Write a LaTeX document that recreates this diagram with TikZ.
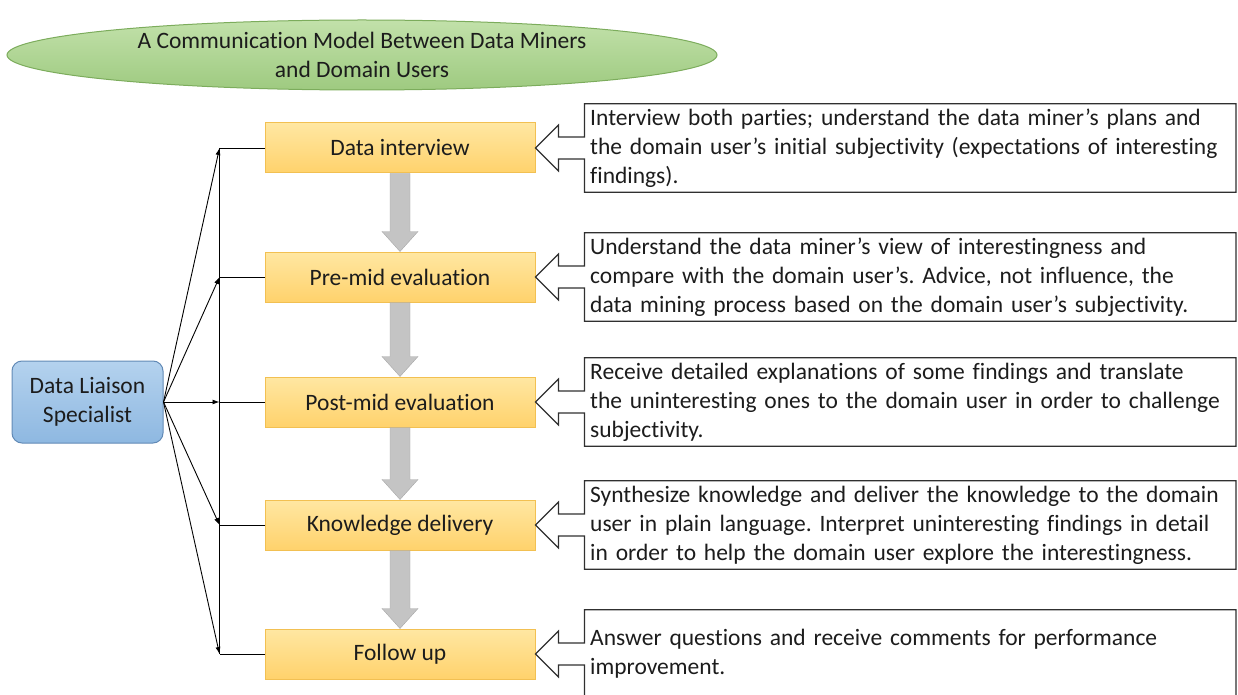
\documentclass[tikz,border=0pt]{standalone}
\usepackage{fontspec}
\setmainfont{Carlito}[Ligatures=NoCommon]
\usetikzlibrary{arrows.meta,calc,positioning,shapes.geometric}
\definecolor{TitleTop}{RGB}{194,225,170}
\definecolor{TitleBot}{RGB}{158,202,128}
\definecolor{TitleClr}{RGB}{124,172,92}
\definecolor{SpecTop}{RGB}{180,210,238}
\definecolor{SpecBot}{RGB}{142,184,225}
\definecolor{SpecClr}{RGB}{98,138,182}
\definecolor{StepTop}{RGB}{255,231,162}
\definecolor{StepBot}{RGB}{255,210,108}
\definecolor{StepClr}{RGB}{242,192,82}
\definecolor{FlowClr}{RGB}{196,196,196}
\definecolor{TxtClr}{RGB}{28,28,28}
\definecolor{NoteClr}{RGB}{48,48,48}
\frenchspacing

\begin{document}
\begin{tikzpicture}[x=1pt,y=-1pt,
  font=\fontsize{23.5}{29}\selectfont,
  StepBox/.style={draw=StepClr,line width=1pt,top color=StepTop,bottom color=StepBot,
    minimum width=270pt,minimum height=50pt,inner sep=0pt,text=TxtClr},
  NoteBox/.style={right=49pt of #1,minimum height=88pt,text width=640pt,
    inner xsep=5.5pt,inner ysep=0pt,align=left,text=TxtClr},
  NoteLine/.style={draw=NoteClr,line width=1.2pt},
  FlowArr/.style={fill=FlowClr,draw=FlowClr!85!black,line width=0.4pt},
  Conn/.style={line width=0.9pt,black},
  ConnArr/.style={Conn,-{Latex[length=7pt,width=5pt]}}]

\useasboundingbox (0,0) rectangle (1238,695);

\node[ellipse,draw=TitleClr,line width=1pt,top color=TitleTop,bottom color=TitleBot,
  minimum width=710pt,minimum height=70pt,inner sep=0pt,align=center,text=TxtClr]
  (title) at (362,55) {A Communication Model Between Data Miners\\and Domain Users};

\node[draw=SpecClr,line width=1pt,rounded corners=10pt,top color=SpecTop,bottom color=SpecBot,
  minimum width=151pt,minimum height=82pt,align=center,text=TxtClr]
  (spec) at (87.5,402) {Data Liaison\\Specialist};

\node[StepBox] (b1) at (400,148) {Data interview};
\node[StepBox] (b2) at (400,277) {Pre-mid evaluation};
\node[StepBox] (b3) at (400,402) {Post-mid evaluation};
\node[StepBox] (b4) at (400,525) {Knowledge delivery};
\node[StepBox] (b5) at (400,654) {Follow up};

\node[NoteBox=b1] (t1) {Interview both parties; understand the data miner’s plans and\\
  the domain user’s initial subjectivity (expectations of interesting\\findings).};
\node[NoteBox=b2] (t2) {Understand the data miner’s view of interestingness and\\
  compare with the domain user’s. Advice, not influence, the\\
  data mining process based on the domain user’s subjectivity.};
\node[NoteBox=b3] (t3) {Receive detailed explanations of some findings and translate\\
  the uninteresting ones to the domain user in order to challenge\\subjectivity.};
\node[NoteBox=b4] (t4) {Synthesize knowledge and deliver the knowledge to the domain\\
  user in plain language. Interpret uninteresting findings in detail\\
  in order to help the domain user explore the interestingness.};
\node[NoteBox=b5] (t5) {Answer questions and receive comments for performance\\improvement.};

\draw[NoteLine] (t1.north west) -| (t1.south east) -| ($(t1.west)+(0,11)$) -- ++(-26,0) -- ++(0,12) -- (b1.east) -- ++(23,-23) -- ++(0,12) -- ++(26,0) -- cycle;
\draw[NoteLine] (t2.north west) -| (t2.south east) -| ($(t2.west)+(0,11)$) -- ++(-26,0) -- ++(0,12) -- (b2.east) -- ++(23,-23) -- ++(0,12) -- ++(26,0) -- cycle;
\draw[NoteLine] (t3.north west) -| (t3.south east) -| ($(t3.west)+(0,11)$) -- ++(-26,0) -- ++(0,12) -- (b3.east) -- ++(23,-23) -- ++(0,12) -- ++(26,0) -- cycle;
\draw[NoteLine] (t4.north west) -| (t4.south east) -| ($(t4.west)+(0,11)$) -- ++(-26,0) -- ++(0,12) -- (b4.east) -- ++(23,-23) -- ++(0,12) -- ++(26,0) -- cycle;
\draw[NoteLine] (t5.north west) -| (t5.south east) -| ($(t5.west)+(0,11)$) -- ++(-26,0) -- ++(0,12) -- (b5.east) -- ++(23,-23) -- ++(0,12) -- ++(26,0) -- cycle;

\filldraw[FlowArr] ($(b1.south)+(-10,0)$) -- ($(b2.north)+(-10,-20)$) -- ++(-8,0) -- (b2.north) -- ++(18,-20) -- ++(-8,0) -- ($(b1.south)+(10,0)$) -- cycle;
\filldraw[FlowArr] ($(b2.south)+(-10,0)$) -- ($(b3.north)+(-10,-20)$) -- ++(-8,0) -- (b3.north) -- ++(18,-20) -- ++(-8,0) -- ($(b2.south)+(10,0)$) -- cycle;
\filldraw[FlowArr] ($(b3.south)+(-10,0)$) -- ($(b4.north)+(-10,-20)$) -- ++(-8,0) -- (b4.north) -- ++(18,-20) -- ++(-8,0) -- ($(b3.south)+(10,0)$) -- cycle;
\filldraw[FlowArr] ($(b4.south)+(-10,0)$) -- ($(b5.north)+(-10,-20)$) -- ++(-8,0) -- (b5.north) -- ++(18,-20) -- ++(-8,0) -- ($(b4.south)+(10,0)$) -- cycle;

\coordinate (c1) at ([xshift=-45pt]b1.west);
\coordinate (c2) at ([xshift=-45pt]b2.west);
\coordinate (c3) at ([xshift=-45pt]b3.west);
\coordinate (c4) at ([xshift=-45pt]b4.west);
\coordinate (c5) at ([xshift=-45pt]b5.west);

\draw[Conn] (c1) -- (c5);
\draw[Conn] (c1) -- (b1.west);
\draw[Conn] (c2) -- (b2.west);
\draw[Conn] (c3) -- (b3.west);
\draw[Conn] (c4) -- (b4.west);
\draw[Conn] (c5) -- (b5.west);

\draw[ConnArr] (spec.east) -- (c1);
\draw[ConnArr] (spec.east) -- (c2);
\draw[ConnArr] (spec.east) -- (c3);
\draw[ConnArr] (spec.east) -- (c4);
\draw[ConnArr] (spec.east) -- (c5);

\end{tikzpicture}
\end{document}
